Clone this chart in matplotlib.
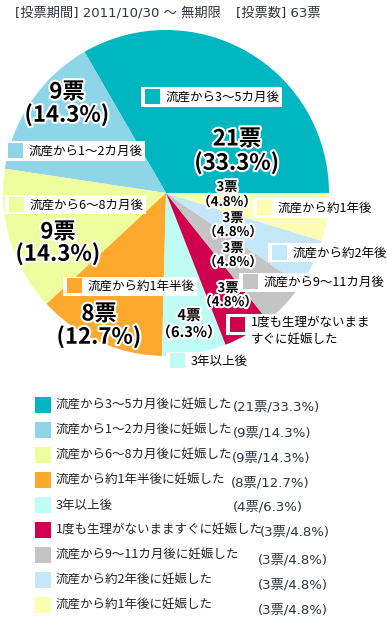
import matplotlib
matplotlib.use('Agg')
import matplotlib.pyplot as plt
import matplotlib.patheffects as pe
from matplotlib.patches import Rectangle

plt.rcParams['font.family'] = ['Noto Sans CJK JP', 'DejaVu Sans']

# data
legend_labels = ['流産から3～5カ月後に妊娠した', '流産から1～2カ月後に妊娠した',
                 '流産から6～8カ月後に妊娠した', '流産から約1年半後に妊娠した',
                 '3年以上後', '1度も生理がないまますぐに妊娠した',
                 '流産から9～11カ月後に妊娠した', '流産から約2年後に妊娠した',
                 '流産から約1年後に妊娠した']
short_labels = ['流産から3～5カ月後', '流産から1～2カ月後', '流産から6～8カ月後',
                '流産から約1年半後', '3年以上後', '1度も生理がないまま\nすぐに妊娠した',
                '流産から9～11カ月後', '流産から約2年後', '流産から約1年後']
votes = [21, 9, 9, 8, 4, 3, 3, 3, 3]
percents = [33.3, 14.3, 14.3, 12.7, 6.3, 4.8, 4.8, 4.8, 4.8]
colors = ['#00B6C0', '#8ED5E7', '#EEFD9E', '#FCA92D', '#BFFDF4',
          '#D1004F', '#C4C4C4', '#C4E7F9', '#FDFDB3']

W, H = 387, 622
fig = plt.figure(figsize=(W / 100, H / 100), dpi=100)


def fx(x):
    return x / W


def fy(y):
    return 1 - y / H


# pie: centre (166,193), radius 163 px
cx, cy, r = 166, 193, 163
ax = fig.add_axes([fx(cx - r), fy(cy + r), 2 * r / W, 2 * r / H])
ax.pie(votes, colors=colors, startangle=0, counterclock=True,
       wedgeprops=dict(linewidth=0))
ax.set_xlim(-1, 1)
ax.set_ylim(-1, 1)
ax.axis('off')

latin = ['DejaVu Sans', 'Noto Sans CJK JP']
txtcol = '#2E3440'
fig.text(fx(15), fy(13), '[投票期間] 2011/10/30 ～ 無期限', fontsize=9.5,
         family=latin, color=txtcol, va='center')
fig.text(fx(236), fy(13), '[投票数] 63票', fontsize=9.5, family=latin,
         color=txtcol, va='center')

# value labels on the pie: (x, y of first line, y of second line, size)
value_pos = [(237, 139, 163, 16), (67, 92, 115, 16), (58, 232, 254, 16),
             (99, 314, 337, 16), (189, 315, 332, 10.5), (228, 288, 302, 9.5),
             (233, 248, 262, 9.5), (233, 218, 232, 9.5), (227, 187, 202, 9.5)]
stroke = [pe.withStroke(linewidth=3, foreground='white')]
for n, p, (x, y1, y2, s) in zip(votes, percents, value_pos):
    if s >= 16:
        ptxt = '(%.1f%%)' % p
    else:
        ptxt = '（%.1f%%）' % p
    for t, y in ((f'{n}票', y1), (ptxt, y2)):
        fig.text(fx(x), fy(y), t, fontsize=s, fontweight='bold', ha='center',
                 va='center', color='black', path_effects=stroke)

# label boxes: (square left x, square top y)
box_pos = [(145, 89), (8, 143), (9, 197), (67, 278), (170, 353),
           (230, 317), (243, 274), (272, 245), (257, 200)]
renderer = fig.canvas.get_renderer()
for lab, c, (x, y) in zip(short_labels, colors, box_pos):
    t = fig.text(fx(x + 21), fy(y + 8), lab, fontsize=9, color='black',
                 va='top' if '\n' in lab else 'center', linespacing=1.5,
                 zorder=5)
    if '\n' in lab:
        t.set_y(fy(y - 1))
    bb = t.get_window_extent(renderer)
    x1 = bb.x1 + 2
    top = max(H - bb.y1, y) - 3
    bot = min(H - bb.y0, y + 15) + 3
    fig.patches.append(Rectangle((fx(x - 4), fy(bot)), fx(x1) - fx(x - 4),
                                 (bot - top) / H, transform=fig.transFigure,
                                 facecolor='white', edgecolor='none', zorder=3))
    fig.patches.append(Rectangle((fx(x), fy(y + 15)), 15 / W, 15 / H,
                                 transform=fig.transFigure, facecolor=c,
                                 edgecolor='none', zorder=4))

# legend
count_x = [233, 233, 232, 231, 233, 260, 258, 258, 258]
count_dy = [2, 3, 3, 3, 2, 2, 5, 5, 5]
for i, (lab, c, n, p) in enumerate(zip(legend_labels, colors, votes, percents)):
    y = 397 + 25 * i
    fig.patches.append(Rectangle((fx(35), fy(y + 16)), 16 / W, 16 / H,
                                 transform=fig.transFigure, facecolor=c,
                                 edgecolor='none'))
    fig.text(fx(56), fy(y + 8), lab, fontsize=9, color='#222222', va='center')
    fig.text(fx(count_x[i]), fy(y + 8 + count_dy[i]), f'({n}票/{p}%)',
             fontsize=9.5, family=latin, color=txtcol, va='center')

fig.savefig('out.png', dpi=100)
